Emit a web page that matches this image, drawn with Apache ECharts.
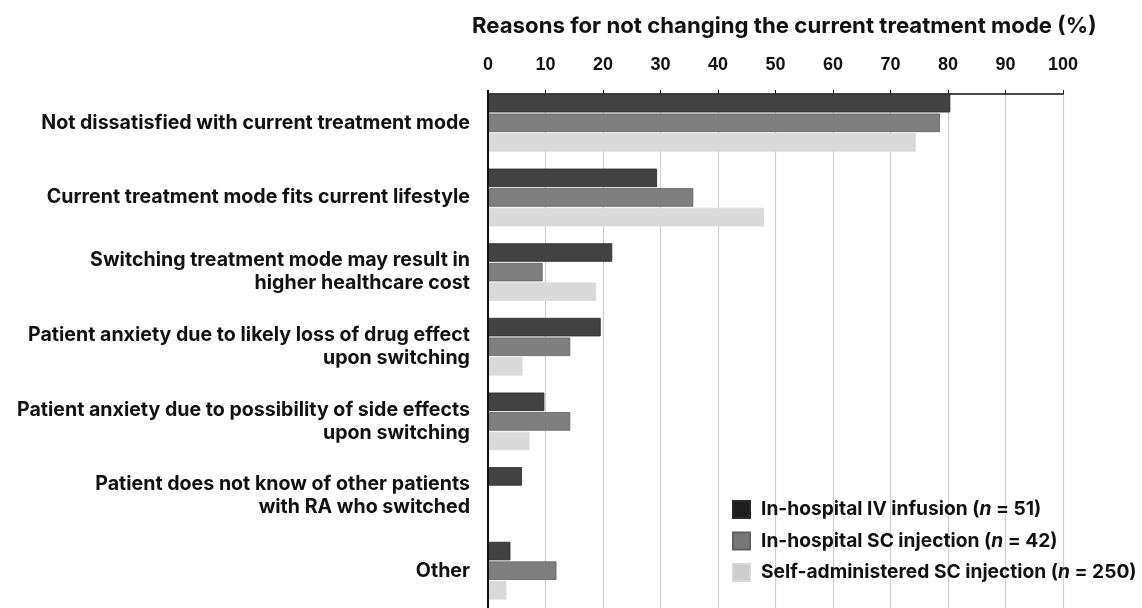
<!DOCTYPE html>
<html>
<head>
<meta charset="utf-8">
<script src="https://cdn.jsdelivr.net/npm/echarts@6/dist/echarts.min.js"></script>
<style>
  html, body { margin: 0; padding: 0; background: #fff; }
  #chart { width: 1142px; height: 608px; }
</style>
</head>
<body>
<div id="chart"></div>
<script>
// Reasons given for staying with the current treatment mode, by group (%)
const reasons = [
  'Not dissatisfied with current treatment mode',
  'Current treatment mode fits current lifestyle',
  'Switching treatment mode may result in\nhigher healthcare cost',
  'Patient anxiety due to likely loss of drug effect\nupon switching',
  'Patient anxiety due to possibility of side effects\nupon switching',
  'Patient does not know of other patients\nwith RA who switched',
  'Other'
];
const groupNames = [
  'In-hospital IV infusion',
  'In-hospital SC injection',
  'Self-administered SC injection'
];
const groupN = [51, 42, 250];
const ivInfusion = [80.4, 29.4, 21.6, 19.6, 9.8, 5.9, 3.9];
const scHospital = [78.6, 35.7, 9.5, 14.3, 14.3, 0, 11.9];
const scSelf = [74.4, 48.0, 18.8, 6.0, 7.2, 0, 3.2];
const xTicks = [0, 10, 20, 30, 40, 50, 60, 70, 80, 90, 100];

const TEXT_FONT = 'Inter, "Liberation Sans", Arial, sans-serif';
const TICK_FONT = '"Liberation Sans", Arial, sans-serif';
const barColors = ['#424242', '#7f7f7f', '#d9d9d9'];
const barBorders = ['#2a2a2a', '#606060', '#d9d9d9'];
const legendColors = ['#1e1e1e', '#787878', '#cdcdcd'];
const seriesData = [ivInfusion, scHospital, scSelf];

const chart = echarts.init(document.getElementById('chart'), null, { renderer: 'canvas' });

const series = groupNames.map((name, i) => ({
  name: name,
  type: 'bar',
  data: seriesData[i],
  barWidth: 18.5,
  barGap: '6%',
  itemStyle: { color: barColors[i], borderColor: barBorders[i], borderWidth: 0.8 },
  emphasis: { disabled: true }
}));

chart.setOption({
  animation: false,
  backgroundColor: '#ffffff',
  textStyle: { fontFamily: TEXT_FONT },
  title: {
    text: 'Reasons for not changing the current treatment mode (%)',
    left: 467,
    top: 10,
    textStyle: { fontFamily: TEXT_FONT, fontSize: 22.2, fontWeight: 'bold', color: '#111' }
  },
  grid: { left: 488, top: 85.5, width: 575, height: 525 },
  xAxis: {
    type: 'value',
    position: 'top',
    offset: -8.5,
    min: xTicks[0],
    max: xTicks[xTicks.length - 1],
    interval: 10,
    axisLine: { show: true, lineStyle: { color: '#111', width: 1.5 } },
    axisTick: { show: true, length: 4, lineStyle: { color: '#111', width: 1 } },
    axisLabel: {
      margin: 20,
      fontFamily: TICK_FONT, fontSize: 18, fontWeight: 'bold', color: '#111'
    },
    splitLine: { show: true, lineStyle: { color: '#cfcfcf', width: 1.2 } }
  },
  yAxis: {
    type: 'category',
    inverse: true,
    data: reasons,
    z: 3,
    axisLine: { show: true, lineStyle: { color: '#111', width: 2 } },
    axisTick: { show: false },
    axisLabel: {
      margin: 18,
      fontFamily: TEXT_FONT, fontSize: 19.6, fontWeight: 'bold', color: '#111',
      lineHeight: 23, align: 'right'
    }
  },
  legend: {
    orient: 'vertical',
    left: 727,
    top: 495,
    itemWidth: 17,
    itemHeight: 17,
    itemGap: 12.5,
    icon: 'rect',
    selectedMode: false,
    data: groupNames.map((name, i) => ({ name: name, itemStyle: { color: legendColors[i] } })),
    formatter: function (name) {
      const n = groupN[groupNames.indexOf(name)];
      return name + ' ({i|n} = ' + n + ')';
    },
    textStyle: {
      fontFamily: TEXT_FONT, fontSize: 19.2, fontWeight: 'bold', color: '#111',
      lineHeight: 19, padding: [0, 0, 0, 6],
      rich: {
        i: { fontFamily: TEXT_FONT, fontSize: 19.2, lineHeight: 19, fontWeight: 'bold', fontStyle: 'italic', color: '#111' }
      }
    }
  },
  graphic: [{
    // white strip hiding grid lines above the top axis line
    type: 'rect',
    z: 100,
    silent: true,
    shape: { x: 478, y: 84, width: 600, height: 6 },
    style: { fill: '#ffffff' }
  }],
  series: series
});
</script>
</body>
</html>
